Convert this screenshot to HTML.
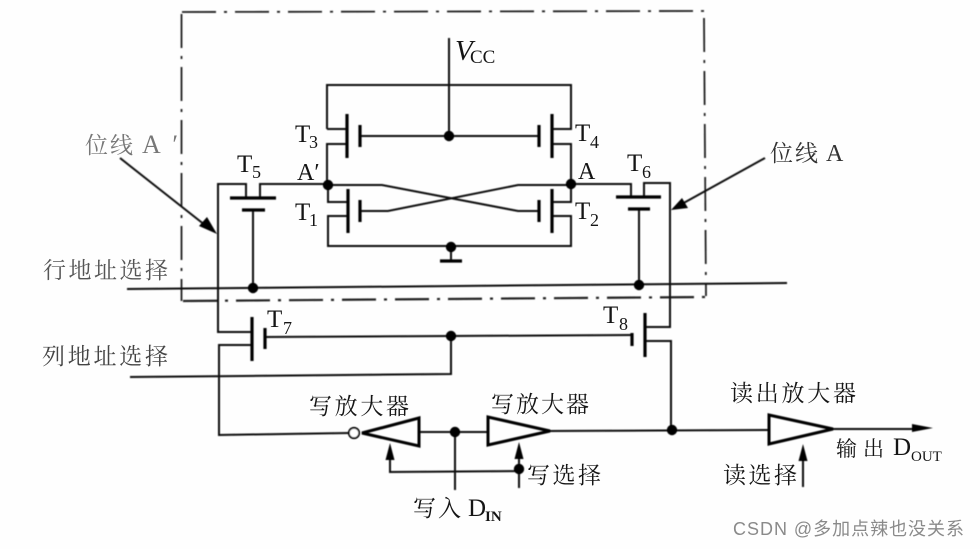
<!DOCTYPE html>
<html><head><meta charset="utf-8"><style>
html,body{margin:0;padding:0;background:#fff}
svg{display:block}
text{font-family:"Liberation Serif","Noto Serif CJK SC",serif;fill:#151515}
.c{font-family:"Noto Serif CJK SC","Liberation Serif",serif;font-size:23px}
.l{font-size:25px}
.s{font-size:18px}
</style></head><body>
<svg width="980" height="549" viewBox="0 0 980 549" xmlns="http://www.w3.org/2000/svg">
<rect width="980" height="549" fill="#fefefe"/>
<defs><filter id="b"><feGaussianBlur stdDeviation="0.4"/></filter></defs>
<g filter="url(#b)">
<g fill="none" stroke="#222" stroke-width="1.800" stroke-dasharray="34 8 3 8">
<path d="M182 12 L704 11"/><path d="M704 18 L706 296"/><path d="M181.500 14 L181.500 301"/><path d="M183 301 L706 297" stroke-width="2.200"/>
</g>
<g fill="none" stroke="#0d0d0d" stroke-width="2">
<path d="M449 38V136M327 129V85H571V129H552M327 129H347M327 185V144H347M571 185V144H552M360 136H539"/>
<path d="M328 185H382L518 211H539M360 211H388L518 185H571M328 185V202H348M348 216H328V246H571V216H552M552 202H571V185"/>
<path d="M451 247V261"/>
<path d="M218 325V184H246V198M260 198V184H328M253 210V288"/>
<path d="M571 184H631V197M644 197V183H670V327H646M646 341H671V430M639 209V285"/>
<path d="M127 289L787 283"/>
<path d="M218 325V332H252M265 337L451 336L632 335M252 345H219V435L349 433"/>
<path d="M130 377L451 374V336"/>
<path d="M419 432H488M455 432V490M550 431L768 430M833 429H915"/>
<path d="M519 488V452M519 471L390 472V456M803 487V456"/>
<path d="M120 158L210 229M765 158L680 205"/>
</g>
<g fill="none" stroke="#000" stroke-width="3.200">
<path d="M347 114V158M360 125V147M552 114V158M539 125V147M348 189V233M360 200V222M552 189V233M539 200V222"/>
<path d="M230 198H276M242 210H265M616 197H661M628 209H650M440 261H462"/>
<path d="M252 317V361M265 328V349M645 313V357M632 333V346"/>
</g>
<g fill="none" stroke="#000" stroke-width="3" stroke-linejoin="miter">
<path d="M362 433L419 418V446Z"/><path d="M488 417V445L550 431Z"/><path d="M769 415V444L833 429Z"/>
</g>
<circle cx="354" cy="433" r="5.200" fill="#fff" stroke="#000" stroke-width="1.800"/>
<g fill="#000">
<circle cx="449" cy="136" r="5.200"/><circle cx="328" cy="185" r="5.200"/><circle cx="571" cy="184" r="5.200"/><circle cx="451" cy="247" r="5.200"/>
<circle cx="253" cy="288" r="5.200"/><circle cx="639" cy="285" r="5.200"/><circle cx="451" cy="336" r="5.200"/><circle cx="455" cy="432" r="5.200"/>
<circle cx="672" cy="430" r="5.200"/><circle cx="519" cy="469" r="5.200"/>
<path d="M217 234L199 226L207 217Z"/><path d="M671 210L682 198L688 208Z"/>
<path d="M390 443L385.500 460H394.500Z"/><path d="M519 442L514.500 459H523.500Z"/><path d="M803 444L798.500 461H807.500Z"/>
<path d="M933 428L912 424V432Z"/>
</g>
</g>
<text x="455" y="60" font-size="29" font-style="italic">V</text><text x="470" y="63" font-size="19">CC</text>
<text x="295" y="142" class="l">T</text><text x="309" y="148" class="s">3</text>
<text x="575" y="141" class="l">T</text><text x="590" y="148" class="s">4</text>
<text x="237" y="172" class="l">T</text><text x="252" y="178" class="s">5</text>
<text x="627" y="171" class="l">T</text><text x="642" y="178" class="s">6</text>
<text x="295" y="220" class="l">T</text><text x="309" y="226" class="s">1</text>
<text x="575" y="219" class="l">T</text><text x="590" y="226" class="s">2</text>
<text x="267" y="327" class="l">T</text><text x="283" y="334" class="s">7</text>
<text x="603" y="323" class="l">T</text><text x="619" y="330" class="s">8</text>
<text x="297" y="180" font-size="24">A′</text>
<text x="578" y="179" font-size="24">A</text>
<text x="85" y="153" class="c" style="fill:#777" textLength="48">位线</text><text x="142" y="153" font-size="26" style="fill:#777" textLength="36">A′</text>
<text x="770" y="161" class="c" style="fill:#333" textLength="48">位线</text><text x="826" y="161" font-size="24" style="fill:#333">A</text>
<text x="43" y="278" class="c" style="fill:#555" textLength="125">行地址选择</text>
<text x="42" y="364" class="c" style="fill:#444" textLength="126">列地址选择</text>
<text x="309" y="414" class="c" textLength="100">写放大器</text>
<text x="491" y="412" class="c" textLength="98">写放大器</text>
<text x="730" y="401" class="c" textLength="126">读出放大器</text>
<text x="527" y="483" class="c" textLength="74">写选择</text>
<text x="723" y="483" class="c" textLength="74">读选择</text>
<text x="413" y="516" class="c" textLength="48">写入</text><text x="468" y="516" font-size="25">D</text><text x="485" y="521" font-size="15" font-weight="bold">IN</text>
<text x="836" y="456" class="c" style="font-size:21px" textLength="48">输出</text><text x="893" y="455" font-size="25">D</text><text x="911" y="461" font-size="15">OUT</text>
<text x="733" y="535" style="font-family:'Liberation Sans','Noto Sans CJK SC',sans-serif;fill:#8a8a8a" font-size="18" textLength="231">CSDN @多加点辣也没关系</text>
</svg>
</body></html>
